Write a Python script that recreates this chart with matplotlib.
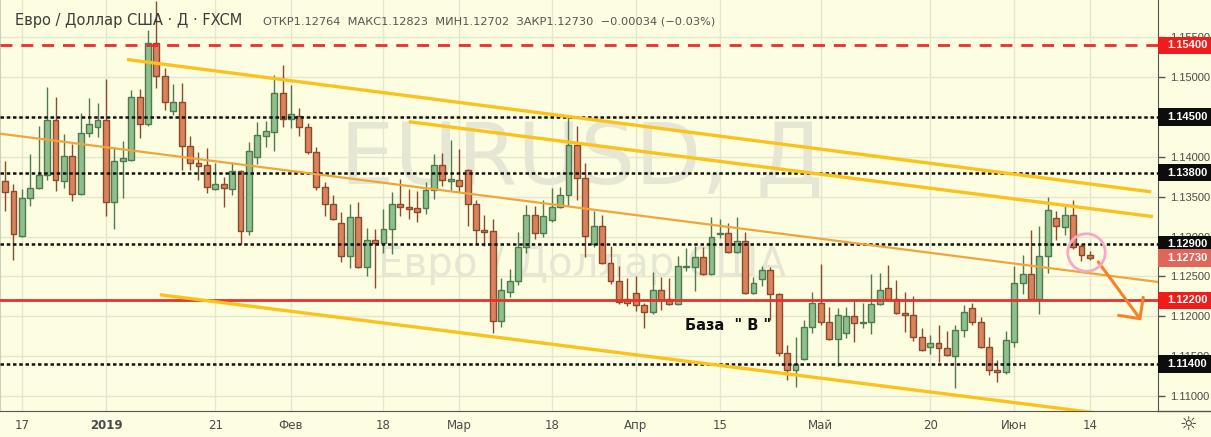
"""EUR/USD daily candles with channel lines and levels -> out.png"""
import numpy as np
import pandas as pd
import matplotlib
matplotlib.use("Agg")
import matplotlib.pyplot as plt
import matplotlib.transforms as mtransforms
from matplotlib.patches import Rectangle
from matplotlib.lines import Line2D

# --- data (FXCM daily bars, Dec 13 2018 .. Jun 14 2019) ---
opens = [1.1370, 1.1357, 1.1301, 1.1348, 1.1361, 1.1377, 1.1446, 1.1370, 1.1401, 1.1353,
         1.1430, 1.1437, 1.1446, 1.1343, 1.1395, 1.1396, 1.1475, 1.1441, 1.1543, 1.1501,
         1.1457, 1.1469, 1.1414, 1.1392, 1.1390, 1.1360, 1.1366, 1.1360, 1.1382, 1.1307,
         1.1400, 1.1426, 1.1431, 1.1480, 1.1447, 1.1451, 1.1437, 1.1406, 1.1362, 1.1341,
         1.1317, 1.1276, 1.1325, 1.1262, 1.1296, 1.1292, 1.1309, 1.1341, 1.1337, 1.1336,
         1.1336, 1.1358, 1.1390, 1.1370, 1.1371, 1.1383, 1.1341, 1.1308, 1.1307, 1.1194,
         1.1230, 1.1244, 1.1287, 1.1327, 1.1304, 1.1321, 1.1337, 1.1352, 1.1415, 1.1373,
         1.1291, 1.1313, 1.1267, 1.1244, 1.1222, 1.1229, 1.1214, 1.1205, 1.1233, 1.1222,
         1.1215, 1.1262, 1.1262, 1.1274, 1.1253, 1.1303, 1.1304, 1.1281, 1.1294, 1.1229,
         1.1247, 1.1258, 1.1228, 1.1154, 1.1133, 1.1146, 1.1187, 1.1217, 1.1193, 1.1172,
         1.1179, 1.1200, 1.1192, 1.1193, 1.1215, 1.1236, 1.1222, 1.1204, 1.1202, 1.1174,
         1.1161, 1.1166, 1.1160, 1.1150, 1.1183, 1.1210, 1.1193, 1.1161, 1.1133, 1.1130,
         1.1168, 1.1242, 1.1253, 1.1222, 1.1276, 1.1323, 1.1312, 1.1327, 1.1288, 1.12764]
highs = [1.1395, 1.1366, 1.1360, 1.1404, 1.1439, 1.1488, 1.1475, 1.1429, 1.1416, 1.1455,
         1.1474, 1.1467, 1.1498, 1.1412, 1.1420, 1.1484, 1.1485, 1.1559, 1.1595, 1.1511,
         1.1491, 1.1493, 1.1426, 1.1406, 1.1411, 1.1392, 1.1375, 1.1394, 1.1383, 1.1418,
         1.1444, 1.1445, 1.1503, 1.1515, 1.1490, 1.1461, 1.1442, 1.1412, 1.1368, 1.1352,
         1.1331, 1.1341, 1.1343, 1.1311, 1.1309, 1.1335, 1.1356, 1.1372, 1.1360, 1.1357,
         1.1368, 1.1404, 1.1405, 1.1421, 1.1410, 1.1385, 1.1346, 1.1327, 1.1322, 1.1248,
         1.1259, 1.1306, 1.1340, 1.1338, 1.1346, 1.1361, 1.1362, 1.1450, 1.1439, 1.1392,
         1.1332, 1.1327, 1.1288, 1.1263, 1.1248, 1.1251, 1.1217, 1.1256, 1.1249, 1.1248,
         1.1276, 1.1286, 1.1288, 1.1287, 1.1325, 1.1322, 1.1317, 1.1325, 1.1306, 1.1249,
         1.1263, 1.1262, 1.1229, 1.1164, 1.1174, 1.1195, 1.1230, 1.1266, 1.1212, 1.1210,
         1.1212, 1.1220, 1.1217, 1.1253, 1.1254, 1.1264, 1.1246, 1.1230, 1.1225, 1.1185,
         1.1177, 1.1189, 1.1182, 1.1189, 1.1214, 1.1217, 1.1199, 1.1174, 1.1145, 1.1182,
         1.1263, 1.1277, 1.1308, 1.1313, 1.1349, 1.1332, 1.1340, 1.1346, 1.1290, 1.12823]
lows = [1.1332, 1.1271, 1.1299, 1.1338, 1.1360, 1.1371, 1.1357, 1.1361, 1.1345, 1.1352,
        1.1425, 1.1425, 1.1326, 1.1309, 1.1348, 1.1395, 1.1424, 1.1439, 1.1486, 1.1459,
        1.1452, 1.1383, 1.1383, 1.1371, 1.1355, 1.1358, 1.1337, 1.1352, 1.1291, 1.1302,
        1.1391, 1.1412, 1.1407, 1.1437, 1.1436, 1.1426, 1.1404, 1.1358, 1.1326, 1.1321,
        1.1268, 1.1261, 1.1261, 1.1251, 1.1236, 1.1279, 1.1278, 1.1326, 1.1322, 1.1318,
        1.1328, 1.1347, 1.1363, 1.1358, 1.1356, 1.1313, 1.1291, 1.1288, 1.1179, 1.1187,
        1.1224, 1.1239, 1.1279, 1.1297, 1.1299, 1.1318, 1.1336, 1.1338, 1.1346, 1.1274,
        1.1287, 1.1266, 1.1240, 1.1215, 1.1213, 1.1207, 1.1185, 1.1203, 1.1208, 1.1214,
        1.1214, 1.1257, 1.1232, 1.1252, 1.1252, 1.1298, 1.1279, 1.1279, 1.1228, 1.1228,
        1.1238, 1.1195, 1.1150, 1.1120, 1.1111, 1.1145, 1.1179, 1.1189, 1.1170, 1.1138,
        1.1173, 1.1168, 1.1185, 1.1178, 1.1214, 1.1220, 1.1203, 1.1180, 1.1169, 1.1156,
        1.1153, 1.1143, 1.1150, 1.1110, 1.1174, 1.1189, 1.1160, 1.1126, 1.1118, 1.1128,
        1.1161, 1.1228, 1.1220, 1.1203, 1.1254, 1.1296, 1.1302, 1.1284, 1.1269, 1.12702]
closes = [1.1356, 1.1303, 1.1348, 1.1361, 1.1377, 1.1446, 1.1371, 1.1401, 1.1353, 1.1430,
          1.1441, 1.1446, 1.1343, 1.1395, 1.1399, 1.1475, 1.1441, 1.1543, 1.1501, 1.1469,
          1.1469, 1.1414, 1.1392, 1.1389, 1.1362, 1.1366, 1.1361, 1.1382, 1.1307, 1.1407,
          1.1427, 1.1432, 1.1480, 1.1447, 1.1454, 1.1437, 1.1406, 1.1362, 1.1341, 1.1322,
          1.1276, 1.1325, 1.1262, 1.1296, 1.1292, 1.1309, 1.1341, 1.1337, 1.1335, 1.1331,
          1.1358, 1.1390, 1.1371, 1.1372, 1.1363, 1.1341, 1.1308, 1.1306, 1.1194, 1.1233,
          1.1244, 1.1287, 1.1327, 1.1304, 1.1326, 1.1337, 1.1352, 1.1415, 1.1373, 1.1301,
          1.1313, 1.1267, 1.1244, 1.1218, 1.1217, 1.1214, 1.1205, 1.1233, 1.1220, 1.1215,
          1.1263, 1.1263, 1.1274, 1.1253, 1.1300, 1.1304, 1.1281, 1.1294, 1.1229, 1.1242,
          1.1258, 1.1228, 1.1154, 1.1133, 1.1140, 1.1187, 1.1217, 1.1193, 1.1172, 1.1202,
          1.1200, 1.1192, 1.1193, 1.1215, 1.1233, 1.1222, 1.1204, 1.1202, 1.1174, 1.1158,
          1.1166, 1.1160, 1.1151, 1.1183, 1.1205, 1.1193, 1.1161, 1.1133, 1.1130, 1.1170,
          1.1242, 1.1253, 1.1222, 1.1276, 1.1333, 1.1313, 1.1327, 1.1287, 1.1277, 1.12730]

tick_dates = ["2018-12-17", "2019-01-02", "2019-01-21", "2019-02-01", "2019-02-18",
              "2019-03-01", "2019-03-18", "2019-04-01", "2019-04-15", "2019-05-01",
              "2019-05-20", "2019-06-03", "2019-06-14"]
tick_labels = ["17", "2019", "21", "Фев", "18", "Мар", "18", "Апр", "15", "Май",
               "20", "Июн", "14"]
price_ticks = [1.110, 1.115, 1.120, 1.125, 1.130, 1.135, 1.140, 1.150, 1.155]

# horizontal levels
dotted_levels = [1.145, 1.138, 1.129, 1.114]
red_dashed_level = 1.154
red_level = 1.122
last_close = 1.12730

# drawn lines: (bar index pair, price pair)
chan_upper = ([14.5, 136.3], [1.1522, 1.1356])
chan_inner = ([48.0, 136.5], [1.1444, 1.1325])
chan_lower = ([18.4, 137.1], [1.1227, 1.1069])
mid_line = ([-0.6, 137.1], [1.1429, 1.1243])
arrow_from = (129.8, 1.1271)
arrow_to = (135.3, 1.1192)
circle_at = (128.5, 1.1281)
base_label_at = (80.9, 1.1189)

# ---------------------------------------------------------------
dates = pd.bdate_range("2018-12-13", "2019-06-14")
dates = dates[~dates.isin(pd.to_datetime(["2018-12-25", "2019-01-01"]))]
x = np.arange(len(dates))
o, h, l, c = map(np.array, (opens, highs, lows, closes))

BG = "#fdfde1"
SCALE_FONT = "Liberation Sans"
W, H = 1211, 437
fig = plt.figure(figsize=(W / 100, H / 100), dpi=100, facecolor=BG)
ax = fig.add_axes([0, 26 / H, 1158 / W, 411 / H], facecolor=BG)
ax.set_xlim(-0.6, 137.1)
ax.set_ylim(1.10812, 1.15966)

# grid
for p in np.arange(1.110, 1.1551, 0.005):
    ax.axhline(p, color="#e6e6cf", lw=1, zorder=0)
tick_pos = [dates.get_loc(pd.Timestamp(d)) for d in tick_dates]
for t in tick_pos:
    ax.axvline(t, color="#e6e6cf", lw=1, zorder=0)

# watermark
ax.text(0.502, 0.61, "EURUSD, Д", transform=ax.transAxes, fontsize=62,
        color="#e6e6d5", ha="center", va="center", zorder=0.5)
ax.text(0.503, 0.356, "Евро / Доллар США", transform=ax.transAxes, fontsize=29,
        color="#e6e6d5", ha="center", va="center", zorder=0.5)

# candles
up = c >= o
fill = np.where(up, "#8fbf8c", "#d9825b")
edge = np.where(up, "#4f7a4f", "#8a4a2c")
ax.vlines(x, l, h, colors=edge, lw=1, zorder=3)
ax.bar(x, np.maximum(np.abs(c - o), 0.00004), bottom=np.minimum(o, c), width=0.7,
       color=fill, edgecolor=edge, lw=1, zorder=4)

# levels (drawn over candles as in the original)
for p in dotted_levels:
    ax.axhline(p, color="#111111", lw=1.8, dashes=(1.4, 1.1), zorder=5)
ax.axhline(red_dashed_level, color="#e8302b", lw=2, dashes=(4.3, 3.2), zorder=5)
ax.axhline(red_level, color="#e8302b", lw=2, zorder=5)

# channel lines
for xs, ys in (chan_upper, chan_inner, chan_lower):
    ax.plot(xs, ys, color="#fbc21b", lw=2.4, solid_capstyle="butt", zorder=6)
ax.plot(*mid_line, color="#f0a53a", lw=1.6, zorder=6)

# forecast arrow and circle
ax.annotate("", xy=arrow_to, xytext=arrow_from,
            arrowprops=dict(arrowstyle="->,head_length=0.5,head_width=0.5",
                            color="#f7812b", lw=2.2, mutation_scale=22), zorder=7)
ax.plot(*circle_at, "o", ms=27, mfc="none", mec="#f5a9c8", mew=2, zorder=7)

ax.text(*base_label_at, 'База  " В "', fontsize=10.5, fontweight="bold",
        color="#111111", ha="left", va="center", zorder=7)

# axes styling
ax.spines["top"].set_visible(False)
ax.spines["left"].set_color("#cfcfc0")
ax.spines["right"].set_color("#555555")
ax.spines["bottom"].set_color("#555555")
ax.yaxis.tick_right()
ax.set_yticks(price_ticks)
ax.set_yticklabels([f"{v:.5f}" for v in price_ticks], family=SCALE_FONT)
ax.tick_params(axis="y", length=5, width=1, color="#555555", labelsize=8,
               labelcolor="#4a4a4a", pad=4)
ax.set_xticks(tick_pos)
ax.set_xticklabels(tick_labels)
ax.tick_params(axis="x", length=0, labelsize=8.5, labelcolor="#4a4a4a", pad=6)
for lab in ax.get_xticklabels():
    if lab.get_text() == "2019":
        lab.set_fontweight("bold")

# price tags on the scale
tag_tr = mtransforms.blended_transform_factory(ax.transAxes, ax.transData)
tags = [(red_dashed_level, "#f01b1b")] + [(p, "#0d0d0d") for p in dotted_levels] \
    + [(red_level, "#f01b1b"), (last_close, "#e0665a")]
for p, col in tags:
    ax.add_patch(Rectangle((1.0, p - 0.00108), 53 / 1158, 0.00216, transform=tag_tr,
                           facecolor=col, edgecolor="none", clip_on=False, zorder=10))
    ax.text(1.0 + 9 / 1158, p, f"{p:.5f}", transform=tag_tr, fontsize=8,
            family=SCALE_FONT, fontweight="bold", color="white", ha="left",
            va="center", clip_on=False, zorder=11)

# bottom rule across the whole width, gear icon
fig.add_artist(Line2D([1158 / W, 1], [26 / H, 26 / H], color="#555555", lw=1))
fig.text(1188 / W, 1 - 424 / H, "☼", fontsize=14, color="#333333",
         ha="center", va="center")

# header
fig.text(15 / W, 1 - 20 / H, "Евро / Доллар США · Д · FXCM", fontsize=10.5,
         color="#3c3c3c", va="center")
fig.text(263 / W, 1 - 21 / H,
         "ОТКР1.12764  МАКС1.12823  МИН1.12702  ЗАКР1.12730  −0.00034 (−0.03%)",
         fontsize=8.2, color="#555555", va="center")

fig.savefig("out.png", dpi=100, facecolor=BG)
